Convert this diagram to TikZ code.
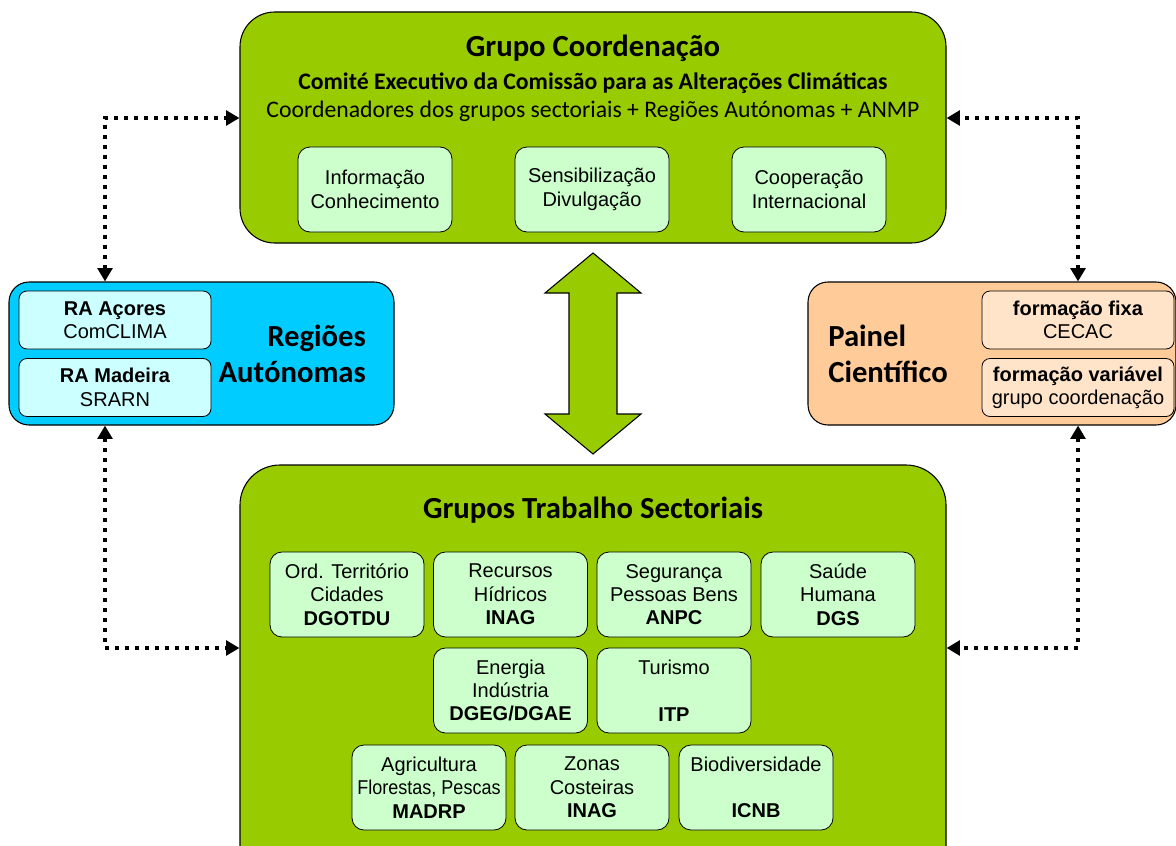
\documentclass[tikz,border=0pt]{standalone}
\usepackage{fontspec}
\setmainfont{Carlito}
\newfontfamily\arialfont{Liberation Sans}
\usetikzlibrary{arrows.meta}
\definecolor{grupo}{HTML}{99CC00}
\definecolor{grupoclaro}{HTML}{CCFFCC}
\definecolor{regiao}{HTML}{00CCFF}
\definecolor{regiaoclaro}{HTML}{CCFFFF}
\definecolor{painel}{HTML}{FFCC99}
\definecolor{painelclaro}{HTML}{FFE4CA}
\begin{document}
\begin{tikzpicture}
	[x=0.75pt, y=-0.75pt, inner sep=0pt,
	bigbox/.style={rectangle,draw=black,line width=0.8pt,fill=grupo,rounded corners=26pt,minimum width=529.5pt},
	sidebox/.style={rectangle,draw=black,line width=0.8pt,rounded corners=15pt,minimum height=107.25pt},
	sub/.style={rectangle,draw=black,line width=0.6pt,fill=grupoclaro,rounded corners=9pt,minimum width=115.5pt,minimum height=63.75pt,align=center,font=\arialfont\fontsize{15}{17.5}\selectfont},
	small/.style={rectangle,draw=black,line width=0.6pt,rounded corners=6pt,minimum width=144pt,minimum height=43.5pt,align=center,font=\arialfont\fontsize{15}{17.5}\selectfont},
	title/.style={font=\fontsize{23}{27}\selectfont\bfseries},
	link/.style={line width=3pt,dash pattern=on 3pt off 4.5pt,{Triangle[width=11pt,length=10pt]}-{Triangle[width=11pt,length=10pt]}},
	bigarrow/.style={draw=black,line width=0.8pt,fill=grupo}]
	\clip (0,0) rectangle (1176,845);
	% grupo coordenacao
	\node (coord) at (593,127.5) [bigbox,minimum height=173.25pt] {};
	\node (coordtitle) at (593,48) [title] {Grupo Coordenação};
	\node (cecac) at (593,83) [font=\fontsize{17.8}{21}\selectfont\bfseries] {Comité Executivo da Comissão para as Alterações Climáticas};
	\node (membros) at (593,111) [font=\fontsize{17.8}{21}\selectfont] {Coordenadores dos grupos sectoriais + Regiões Autónomas + ANMP};
	\node (info) at (375,189.5) [sub] {Informação\\Conhecimento};
	\node (sensib) at (592,189.5) [sub] {Sensibilização\\Divulgação};
	\node (coop) at (809,189.5) [sub] {Cooperação\\Internacional};
	% regioes autonomas
	\node (regioes) at (201.5,353.5) [sidebox,fill=regiao,minimum width=288.75pt] {};
	\node (regtitle) at (366,354) [title,anchor=east,align=right] {Regiões\\Autónomas};
	\node (acores) at (115,320) [small,fill=regiaoclaro] {\textbf{RA Açores}\\ComCLIMA};
	\node (madeira) at (115,387.5) [small,fill=regiaoclaro] {\textbf{RA Madeira}\\SRARN};
	% painel cientifico
	\node (painel) at (992,353.5) [sidebox,fill=painel,minimum width=276pt] {};
	\node (paineltitle) at (828,354) [title,anchor=west,align=left] {Painel\\Científico};
	\node (fixa) at (1078,320) [small,fill=painelclaro] {\textbf{formação fixa}\\CECAC};
	\node (variavel) at (1078,387.5) [small,fill=painelclaro] {\textbf{formação variável}\\grupo coordenação};
	% grupos trabalho sectoriais
	\node (sectoriais) at (593,675) [bigbox,rounded corners=30pt,minimum height=315pt] {};
	\node (secttitle) at (593,510) [title] {Grupos Trabalho Sectoriais};
	\node (ordter) at (347,594.5) [sub] {Ord. Território\\Cidades\\\textbf{DGOTDU}};
	\node (rechid) at (510.5,594.5) [sub] {Recursos\\Hídricos\\\textbf{INAG}};
	\node (seguranca) at (674,594.5) [sub] {Segurança\\Pessoas Bens\\\textbf{ANPC}};
	\node (saude) at (838,594.5) [sub] {Saúde\\Humana\\\textbf{DGS}};
	\node (energia) at (510.5,690.5) [sub] {Energia\\Indústria\\\textbf{DGEG/DGAE}};
	\node (turismo) at (674,690.5) [sub] {Turismo\\~\\\textbf{ITP}};
	\node (agric) at (429,787.5) [sub] {Agricultura\\\scalebox{0.9}[1]{Florestas, Pescas}\\\textbf{MADRP}};
	\node (zonas) at (592,787.5) [sub] {Zonas\\Costeiras\\\textbf{INAG}};
	\node (biodiv) at (756,787.5) [sub] {Biodiversidade\\~\\\textbf{ICNB}};
	% ligacoes
	\coordinate (lt) at (105,118);
	\coordinate (lb) at (105,648);
	\coordinate (rt) at (1078,118);
	\coordinate (rb) at (1078,648);
	\draw [link] (lt |- regioes.north) |- (coord.west |- lt);
	\draw [link] (lb |- regioes.south) |- (sectoriais.west |- lb);
	\draw [link] (rt |- painel.north) |- (coord.east |- rt);
	\draw [link] (rb |- painel.south) |- (sectoriais.east |- rb);
	\draw [bigarrow] (593,253) -- (641,293) -- (617,293) -- (617,414) -- (641,414) -- (593,454)
		-- (545,414) -- (569,414) -- (569,293) -- (545,293) -- cycle;
\end{tikzpicture}
\end{document}
